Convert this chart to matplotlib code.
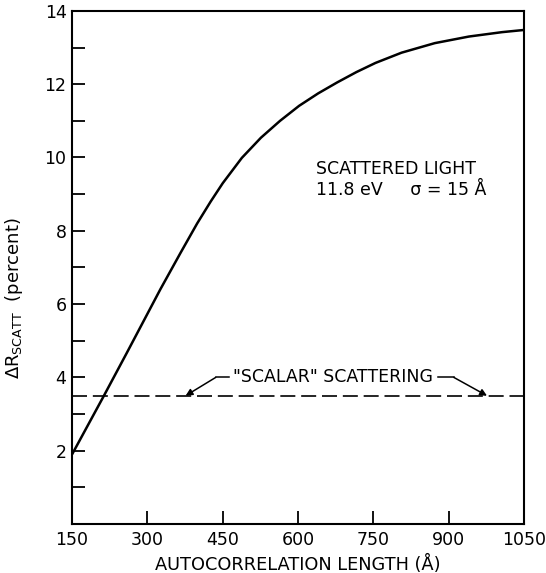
import matplotlib
matplotlib.use("Agg")
import matplotlib.pyplot as plt

plt.rcParams['font.family'] = ['DejaVu Sans']

# Data
autocorr_length = [150, 213, 259, 326, 366, 399, 426, 450, 488, 526, 564, 602, 640,
                   678, 716, 754, 806, 872, 940, 1006, 1050]
delta_r_scatt = [1.9, 3.49, 4.67, 6.41, 7.4, 8.2, 8.8, 9.3, 9.99, 10.54, 11.0, 11.41,
                 11.75, 12.05, 12.33, 12.58, 12.86, 13.12, 13.3, 13.42, 13.48]
scalar_level = 3.5

x_ticks = [150, 300, 450, 600, 750, 900, 1050]
y_ticks = [2, 4, 6, 8, 10, 12, 14]
y_minor = [1, 3, 5, 7, 9, 11, 13]

fig = plt.figure(figsize=(5.46, 5.73), dpi=100)
ax = fig.add_axes([0.132, 0.0855, 0.828, 0.8955])

ax.plot(autocorr_length, delta_r_scatt, color='black', lw=1.8, solid_capstyle='butt',
        solid_joinstyle='round')
ax.plot([x_ticks[0], x_ticks[-1]], [scalar_level, scalar_level], color='black', lw=1.2,
        dashes=(9, 3.5))

ax.set_xlim(150, 1050)
ax.set_ylim(0, 14)
ax.set_xticks(x_ticks)
ax.set_yticks(y_ticks)
ax.set_yticks(y_minor, minor=True)
ax.tick_params(axis='both', which='both', direction='in', length=9.5, width=1.3,
               labelsize=12.5, top=False, right=False)
ax.tick_params(axis='x', pad=5)
ax.tick_params(axis='y', pad=4)
for s in ax.spines.values():
    s.set_linewidth(1.5)

ax.set_xlabel('AUTOCORRELATION LENGTH (Å)', fontsize=12.8, labelpad=4)
ax.set_ylabel(r'$\Delta$R$_{\mathrm{SCATT}}$  (percent)', fontsize=13)
ax.yaxis.set_label_coords(-0.105, 0.44)

ax.text(636, 9.69, 'SCATTERED LIGHT', fontsize=12.5, ha='left', va='center')
ax.text(636, 9.12, '11.8 eV     σ = 15 Å', fontsize=12.5, ha='left', va='center')

ax.text(669, 4.0, '"SCALAR" SCATTERING', fontsize=12.5, ha='center', va='center')
# leader lines with arrows
ax.plot([462, 436], [4.0, 4.0], color='black', lw=1.1)
ax.annotate('', xy=(376, scalar_level), xytext=(436, 4.0),
            arrowprops=dict(arrowstyle='-|>', color='black', lw=1.1,
                            mutation_scale=10, shrinkA=0, shrinkB=0))
ax.plot([878, 910], [4.0, 4.0], color='black', lw=1.1)
ax.annotate('', xy=(976, scalar_level), xytext=(910, 4.0),
            arrowprops=dict(arrowstyle='-|>', color='black', lw=1.1,
                            mutation_scale=10, shrinkA=0, shrinkB=0))

fig.savefig('out.png', dpi=100)
